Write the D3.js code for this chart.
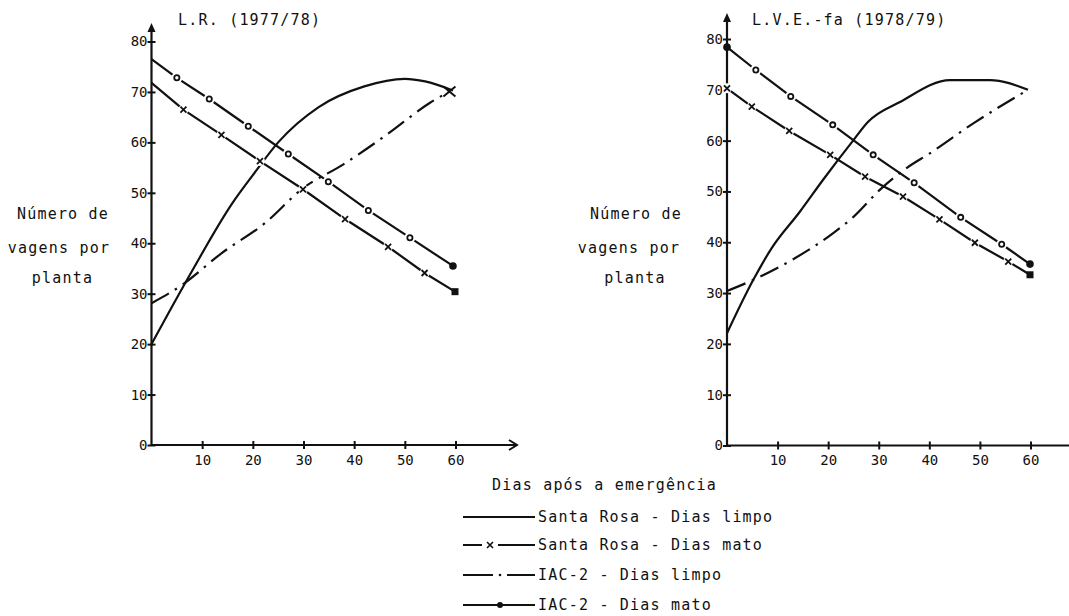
<!DOCTYPE html>
<html><head><meta charset="utf-8">
<script src="https://cdn.jsdelivr.net/npm/d3@7"></script>
<style>
html,body{margin:0;padding:0;background:#fff;}
svg{display:block;}
text{font-family:"DejaVu Sans Mono",monospace;fill:#111;}
</style></head>
<body>
<svg id="c" width="1069" height="616"></svg>
<script>
// ---- data ----
const xTicks = [10, 20, 30, 40, 50, 60];
const yTicks = [0, 10, 20, 30, 40, 50, 60, 70, 80];
const panelTitles = ["L.R. (1977/78)", "L.V.E.-fa (1978/79)"];
const yLabelLines = ["Número de", "vagens por", "planta"];
const xLabel = "Dias após a emergência";
const legendLabels = ["Santa Rosa - Dias limpo", "Santa Rosa - Dias mato", "IAC-2 - Dias limpo", "IAC-2 - Dias mato"];

// L.R. (1977/78)
const lrSantaRosaLimpoDays = [0, 8, 16, 20, 25, 33, 42, 50, 54, 59.5];
const lrSantaRosaLimpo     = [20, 34.5, 48, 53.5, 60, 67, 71.1, 72.6, 72.1, 70.3];
const lrSantaRosaMatoDays  = [0, 6.3, 13.8, 21.4, 29.9, 38.2, 46.7, 53.9, 59.9];
const lrSantaRosaMato      = [71.8, 66.5, 61.5, 56.3, 50.7, 44.8, 39.3, 34.1, 30.4];
const lrIacLimpoDays       = [0, 6, 13.8, 22.4, 29.9, 37.8, 46.4, 54.9, 58.8];
const lrIacLimpo           = [28.1, 31.7, 38, 44, 50.9, 55.6, 61.5, 67.8, 70.1];
const lrIacMatoDays        = [0, 5, 11.4, 19.1, 27, 34.9, 42.8, 51, 59.5];
const lrIacMato            = [76.5, 72.8, 68.6, 63.2, 57.7, 52.2, 46.5, 41.1, 35.5];

// L.V.E.-fa (1978/79)
const lveSantaRosaLimpoDays = [0, 5.2, 8.8, 14.4, 19, 25, 27.9, 34.2, 44.1, 52, 59.5];
const lveSantaRosaLimpo     = [22.1, 32.6, 38.8, 46, 52.3, 60.1, 63.7, 67.6, 71.9, 71.9, 70];
const lveSantaRosaMatoDays  = [0, 4.9, 12.3, 20.4, 27.3, 34.8, 42, 49, 55.6, 59.9];
const lveSantaRosaMato      = [70.3, 66.7, 61.9, 57.2, 52.9, 49, 44.5, 39.9, 36.2, 33.6];
const lveIacLimpoDays       = [0, 5.2, 12.8, 21, 25, 30.2, 35.5, 40.1, 48.7, 59.5];
const lveIacLimpo           = [30.4, 32.6, 36.5, 41.8, 45, 50.3, 54.6, 57.5, 63.4, 70];
const lveIacMatoDays        = [0, 5.7, 12.6, 20.9, 28.9, 37, 46.2, 54.3, 59.9];
const lveIacMato            = [78.4, 73.9, 68.7, 63.1, 57.2, 51.7, 44.9, 39.6, 35.7];

const zip = (d, v) => d.map((x, i) => ({d: x, v: v[i]}));

const panels = [
  {title: panelTitles[0], xr: [151.5, 455.5], yr: [445, 41.5], axisTop: 23, axisRight: 517, titleX: 178,
   yLab: [63, 59, 62.5],
   srl: zip(lrSantaRosaLimpoDays, lrSantaRosaLimpo), srm: zip(lrSantaRosaMatoDays, lrSantaRosaMato),
   iacl: zip(lrIacLimpoDays, lrIacLimpo), iacm: zip(lrIacMatoDays, lrIacMato), markStart: 1},
  {title: panelTitles[1], xr: [727, 1030.5], yr: [445.5, 39], axisTop: 13, axisRight: 1075, titleX: 752,
   yLab: [636, 629, 635],
   srl: zip(lveSantaRosaLimpoDays, lveSantaRosaLimpo), srm: zip(lveSantaRosaMatoDays, lveSantaRosaMato),
   iacl: zip(lveIacLimpoDays, lveIacLimpo), iacm: zip(lveIacMatoDays, lveIacMato), markStart: 0}
];

const svg = d3.select("#c");
const ink = "#111";
const fs = "15px";
const ls = "1.2px";

panels.forEach(p => {
  const x = d3.scaleLinear().domain([0, 60]).range(p.xr);
  const y = d3.scaleLinear().domain([0, 80]).range(p.yr);
  const g = svg.append("g");
  const x0 = x(0), y0 = y(0);

  // axes lines
  g.append("line").attr("x1", x0).attr("x2", x0).attr("y1", y0).attr("y2", p.axisTop + 4)
    .attr("stroke", ink).attr("stroke-width", 2.2);
  g.append("path").attr("d", `M${x0},${p.axisTop} L${x0-4},${p.axisTop+9} L${x0+4},${p.axisTop+9} Z`).attr("fill", ink);
  g.append("line").attr("x1", x0).attr("x2", p.axisRight).attr("y1", y0).attr("y2", y0)
    .attr("stroke", ink).attr("stroke-width", 2.2);
  if (p.axisRight < 1069) {
    g.append("path").attr("d", `M${p.axisRight-8},${y0-5} L${p.axisRight},${y0} L${p.axisRight-8},${y0+5}`)
      .attr("fill", "none").attr("stroke", ink).attr("stroke-width", 2);
  }

  const ya = g.append("g").attr("transform", `translate(${x0},0)`)
    .call(d3.axisLeft(y).tickValues(yTicks).tickSize(4).tickPadding(3));
  ya.select(".domain").remove();
  ya.selectAll(".tick line").attr("x1", -4).attr("x2", 4).attr("stroke", ink).attr("stroke-width", 2);
  ya.selectAll(".tick text").attr("font-family", "DejaVu Sans Condensed, sans-serif").attr("font-size", 14).attr("fill", ink).attr("x", -4);

  const xa = g.append("g").attr("transform", `translate(0,${y0})`)
    .call(d3.axisBottom(x).tickValues(xTicks).tickSize(4).tickPadding(6));
  xa.select(".domain").remove();
  xa.selectAll(".tick line").attr("y1", -4).attr("y2", 4).attr("stroke", ink).attr("stroke-width", 2);
  xa.selectAll(".tick text").attr("font-family", "DejaVu Sans Condensed, sans-serif").attr("font-size", 14).attr("fill", ink);

  g.append("text").attr("x", p.titleX).attr("y", 25).attr("font-size", fs).attr("letter-spacing", ls).text(p.title);

  const yBase = [219, 253, 283];
  yLabelLines.forEach((t, i) => {
    g.append("text").attr("x", p.yLab[i]).attr("y", yBase[i]).attr("text-anchor", "middle")
      .attr("font-size", fs).attr("letter-spacing", ls).text(t);
  });

  const line = d3.line().x(d => x(d.d)).y(d => y(d.v)).curve(d3.curveMonotoneX);
  const straight = d3.line().x(d => x(d.d)).y(d => y(d.v));

  // Santa Rosa limpo: solid
  g.append("path").attr("d", line(p.srl)).attr("fill", "none").attr("stroke", ink).attr("stroke-width", 2.2);
  // IAC-2 limpo: dash-dot
  g.append("path").attr("d", line(p.iacl)).attr("fill", "none").attr("stroke", ink).attr("stroke-width", 2.2)
    .attr("stroke-dasharray", "20,7,2.5,7");
  const le = p.iacl[p.iacl.length - 1];
  // Santa Rosa mato
  g.append("path").attr("d", straight(p.srm)).attr("fill", "none").attr("stroke", ink).attr("stroke-width", 2.2);
  // IAC-2 mato
  g.append("path").attr("d", straight(p.iacm)).attr("fill", "none").attr("stroke", ink).attr("stroke-width", 2.2);

  p.srm.forEach((d, i) => {
    if (i < p.markStart) return;
    const cx = x(d.d), cy = y(d.v);
    const last = i === p.srm.length - 1;
    if (last) {
      g.append("rect").attr("x", cx - 3.5).attr("y", cy - 3.5).attr("width", 7).attr("height", 7).attr("fill", ink);
      return;
    }
    g.append("circle").attr("cx", cx).attr("cy", cy).attr("r", 5).attr("fill", "#fff");
    g.append("path").attr("d", `M${cx-3},${cy-3}L${cx+3},${cy+3}M${cx-3},${cy+3}L${cx+3},${cy-3}`)
      .attr("stroke", ink).attr("stroke-width", 1.8);
  });
  p.iacm.forEach((d, i) => {
    if (i < p.markStart) return;
    const cx = x(d.d), cy = y(d.v);
    const last = i === p.iacm.length - 1;
    if (last || i === 0) {
      g.append("circle").attr("cx", cx).attr("cy", cy).attr("r", 3.8).attr("fill", ink);
      return;
    }
    g.append("circle").attr("cx", cx).attr("cy", cy).attr("r", 5.5).attr("fill", "#fff");
    g.append("circle").attr("cx", cx).attr("cy", cy).attr("r", 2.6).attr("fill", "#fff").attr("stroke", ink).attr("stroke-width", 1.8);
  });
  if (p.markStart === 1) {
    const cx = x(le.d), cy = y(le.v);
    g.append("path").attr("d", `M${cx-6},${cy-5}L${cx+6},${cy+5}M${cx-6},${cy+5}L${cx+6},${cy-5}`)
      .attr("stroke", ink).attr("stroke-width", 2);
  }
});

svg.append("text").attr("x", 492).attr("y", 490).attr("font-size", fs).attr("letter-spacing", ls).text(xLabel);
const legY = [517, 545, 575, 605];
const lx0 = 463, lx1 = 535, tx = 538;
legendLabels.forEach((t, i) => {
  const yy = legY[i];
  const g = svg.append("g");
  if (i === 0) {
    g.append("line").attr("x1", lx0).attr("x2", lx1).attr("y1", yy).attr("y2", yy).attr("stroke", ink).attr("stroke-width", 2);
  } else if (i === 1) {
    g.append("line").attr("x1", lx0).attr("x2", 482).attr("y1", yy).attr("y2", yy).attr("stroke", ink).attr("stroke-width", 2);
    g.append("path").attr("d", `M${487},${yy-3}L${493},${yy+3}M${487},${yy+3}L${493},${yy-3}`).attr("stroke", ink).attr("stroke-width", 1.6);
    g.append("line").attr("x1", 498).attr("x2", lx1).attr("y1", yy).attr("y2", yy).attr("stroke", ink).attr("stroke-width", 2);
  } else if (i === 2) {
    g.append("line").attr("x1", lx0).attr("x2", 493).attr("y1", yy).attr("y2", yy).attr("stroke", ink).attr("stroke-width", 2);
    g.append("circle").attr("cx", 500).attr("cy", yy).attr("r", 1.3).attr("fill", ink);
    g.append("line").attr("x1", 507).attr("x2", lx1).attr("y1", yy).attr("y2", yy).attr("stroke", ink).attr("stroke-width", 2);
  } else {
    g.append("line").attr("x1", lx0).attr("x2", lx1).attr("y1", yy).attr("y2", yy).attr("stroke", ink).attr("stroke-width", 2);
    g.append("circle").attr("cx", 500).attr("cy", yy).attr("r", 3).attr("fill", ink);
  }
  g.append("text").attr("x", tx).attr("y", yy + 5).attr("font-size", fs).attr("letter-spacing", ls).text(t);
});
</script>
</body></html>
